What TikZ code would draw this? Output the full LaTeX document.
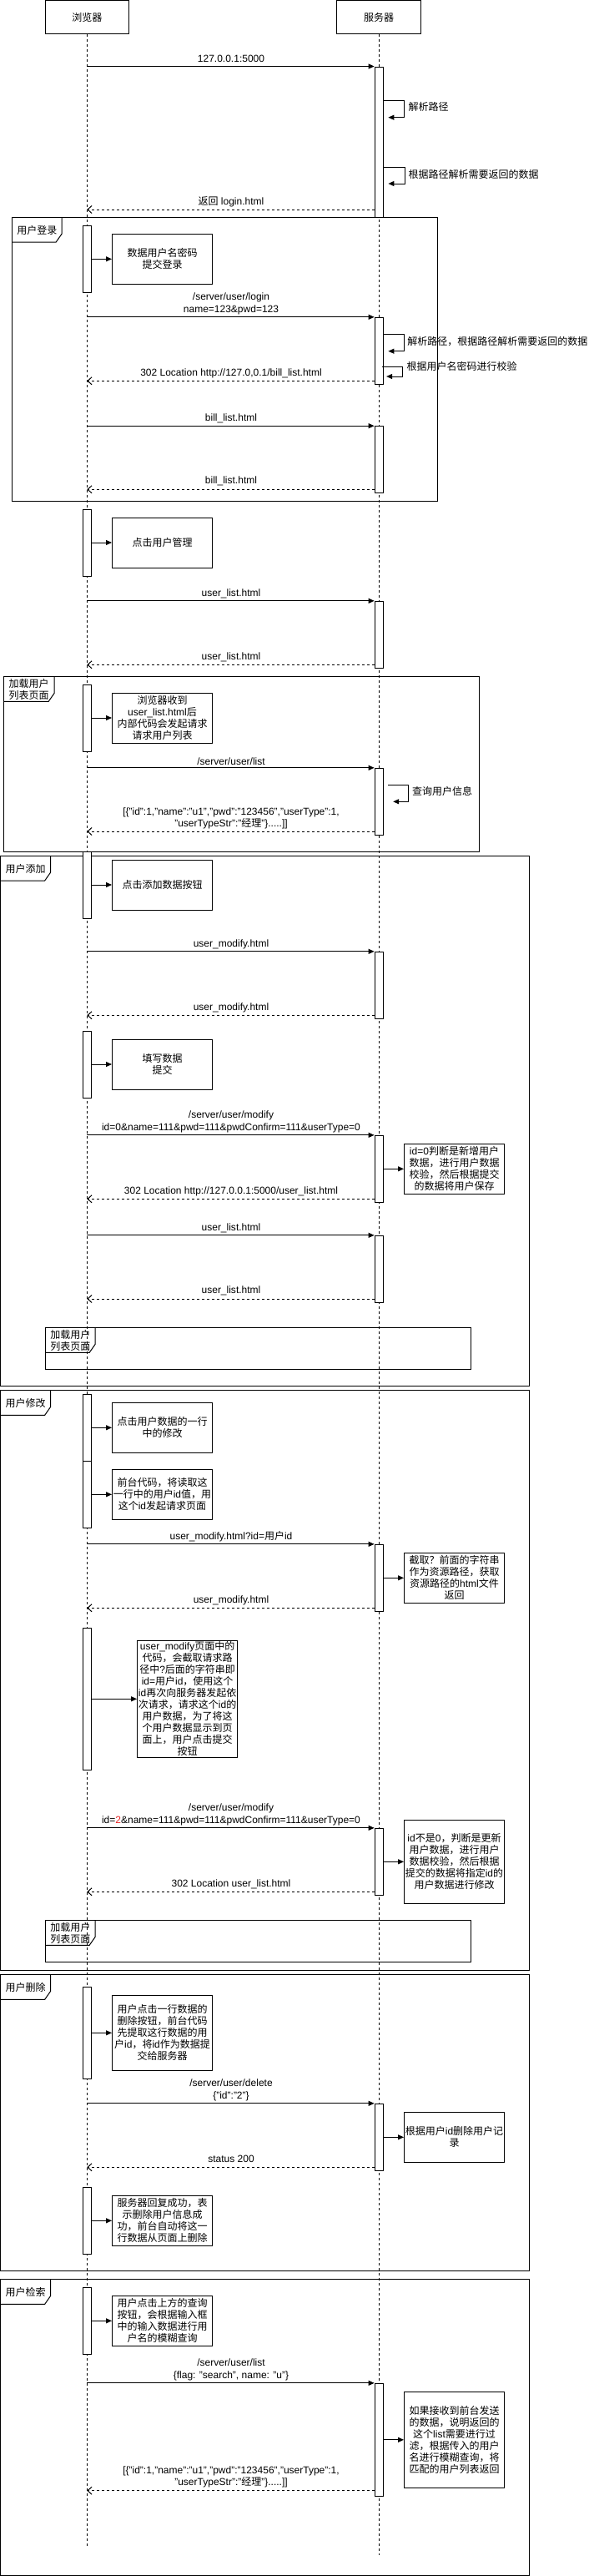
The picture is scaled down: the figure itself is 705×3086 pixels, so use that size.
\documentclass[tikz,border=0pt]{standalone}
\usepackage{fontspec}
\setmainfont{Liberation Sans}
\newfontfamily\zhfont{Noto Sans CJK SC}
% Chinese characters switch to the CJK face
\newXeTeXintercharclass\zhclass
\newcount\zhcode
\newcommand{\zhrange}[2]{%
  \zhcode=#1
  \loop
    \XeTeXcharclass\zhcode=\zhclass
    \advance\zhcode by 1
  \ifnum\zhcode<#2 \repeat}
\zhrange{"4E00}{"A000}
\zhrange{"3000}{"3040}
\zhrange{"FF00}{"FFF0}
\XeTeXinterchartoks 0 \zhclass = {\zhfont}
\XeTeXinterchartoks 4095 \zhclass = {\zhfont}
\XeTeXinterchartoks \zhclass 0 = {\rmfamily}
\XeTeXinterchartoks \zhclass 4095 = {\rmfamily}
\XeTeXinterchartokenstate=1
\usetikzlibrary{arrows.meta,positioning}
\definecolor{idred}{RGB}{232,38,38}

\tikzset{
  head/.style={draw, minimum width=100.5pt, minimum height=40pt, inner sep=0pt},
  actbox/.style={draw, fill=white, minimum width=10pt, inner sep=0pt},
  notebox/.style={draw, fill=white, align=center, inner sep=1pt,
    minimum width=120pt, minimum height=60pt, font=\fontsize{12}{14}\selectfont},
  call/.style={-{Triangle[length=7pt,width=6pt]}},
  reply/.style={dash pattern=on 3pt off 3pt, -{Straight Barb[length=5pt,width=9pt]}},
  life/.style={dash pattern=on 3pt off 3pt},
  msg/.style={align=center, inner sep=0pt},
  side/.style={anchor=west, inner sep=0pt},
  tag/.style={anchor=west, align=left, inner sep=0pt},
}

% activation bar: name, x, top, bottom
\newcommand{\actbar}[4]{%
  \pgfmathsetmacro{\barlen}{#4-#3}%
  \node[actbox, minimum height=\barlen pt] (#1) at (#2,{(#3+#4)/2}) {};}

% fragment: x0, y0, x1, y1, tag right edge, name, title
\newcommand{\umlframe}[7]{%
  \draw (#1,#2) rectangle (#3,#4);
  \draw (#1,#2+30) -- (#5-7,#2+30) -- (#5,#2+20) -- (#5,#2);
  \node[tag] (#6) at (#1+5.5,#2+15.5) {#7};}

\begin{document}
\begin{tikzpicture}[x=1pt, y=-1pt, line width=1pt, font=\fontsize{12}{14.4}\selectfont]
\useasboundingbox (0,0) rectangle (705,3086);

% Fragments
\umlframe{14.4}{260}{524.7}{600}{74.2}{fLogin}{用户登录}
\umlframe{4.5}{810.3}{574.6}{1020.3}{65.2}{fList}{加载用户\\列表页面}
\umlframe{0.5}{1025}{634}{1660}{60.7}{fAdd}{用户添加}
\umlframe{54.4}{1590.3}{564.3}{1640.3}{114.2}{fListA}{加载用户\\列表页面}
\umlframe{0.5}{1665.3}{634}{2360.3}{60.7}{fEdit}{用户修改}
\umlframe{54.4}{2300.3}{564.3}{2350.3}{114.2}{fListB}{加载用户\\列表页面}
\umlframe{0.5}{2365.3}{634}{2720.3}{60.7}{fDel}{用户删除}
\umlframe{0.5}{2730.3}{634}{3085.5}{60.7}{fFind}{用户检索}

% Participants and lifelines
\node[head] (brw) at (104.3,20.5) {浏览器};
\node[head] (srv) at (454.1,20.5) {服务器};
\coordinate (brwEnd) at (104.3,3050);
\coordinate (srvEnd) at (454.1,3061);
\draw[life] (brw.south) -- (brwEnd);
\draw[life] (srv.south) -- (srvEnd);

% Activation bars
\foreach \n/\a/\b in {s1/80/260, s2/380.3/460.7, s3/510.7/590, s4/720.3/800,
    s5/920.3/1000, s6/1140.3/1220, s7/1360.3/1440, s8/1480.3/1560,
    s9/1850.3/1930, s10/2190.3/2270, s11/2520.3/2600, s12/2855.3/2990}
  {\actbar{\n}{454.1}{\a}{\b}}
\foreach \n/\a/\b in {c1/270/350, c2/610/690, c3/820/900, c4/1020/1100,
    c5/1235/1315, c6/1670/1750, c7/1750/1830, c8/1950/2120,
    c9/2380/2490, c10/2620/2700, c11/2740/2820}
  {\actbar{\n}{104.3}{\a}{\b}}

% Browser side notes
\node[notebox] (n1) at (194.5,310.3) {数据用户名密码\\提交登录};
\node[notebox] (n2) at (194.5,650) {点击用户管理};
\node[notebox] (n3) at (194.5,860) {浏览器收到\\user\_list.html后\\内部代码会发起请求\\请求用户列表};
\node[notebox] (n4) at (194.5,1060) {点击添加数据按钮};
\node[notebox] (n5) at (194.5,1275) {填写数据\\提交};
\node[notebox] (n6) at (194.5,1710.3) {点击用户数据的一行\\中的修改};
\node[notebox] (n7) at (194.5,1790.3) {前台代码，将读取这\\一行中的用户id值，用\\这个id发起请求页面};
\node[notebox, minimum height=140pt, inner sep=0pt] (n8) at (224.6,2035.3)
  {user\_modify页面中的\\代码，会截取请求路\\径中?后面的字符串即\\id=用户id，使用这个\\id再次向服务器发起依\\次请求，请求这个id的\\用户数据，为了将这\\个用户数据显示到页\\面上，用户点击提交\\按钮};
\node[notebox, minimum height=90pt] (n9) at (194.5,2435.3)
  {用户点击一行数据的\\删除按钮，前台代码\\先提取这行数据的用\\户id，将id作为数据提\\交给服务器};
\node[notebox] (n10) at (194.5,2660.3) {服务器回复成功，表\\示删除用户信息成\\功，前台自动将这一\\行数据从页面上删除};
\node[notebox] (n11) at (194.5,2780.3) {用户点击上方的查询\\按钮，会根据输入框\\中的输入数据进行用\\户名的模糊查询};
\foreach \i in {1,...,11}
  {\draw[call] (c\i.east |- n\i.west) -- (n\i.west);}

% Server side notes
\node[notebox] (t1) at (544.5,1400.3) {id=0判断是新增用户\\数据，进行用户数据\\校验，然后根据提交\\的数据将用户保存};
\node[notebox] (t2) at (544.5,1890.3) {截取？前面的字符串\\作为资源路径，获取\\资源路径的html文件\\返回};
\node[notebox, minimum height=100pt] (t3) at (544.5,2230.3)
  {id不是0，判断是更新\\用户数据，进行用户\\数据校验，然后根据\\提交的数据将指定id的\\用户数据进行修改};
\node[notebox] (t4) at (544.5,2560.3) {根据用户id删除用户记\\录};
\node[notebox, minimum height=115pt] (t5) at (544.5,2922.8)
  {如果接收到前台发送\\的数据，说明返回的\\这个list需要进行过\\滤，根据传入的用户\\名进行模糊查询，将\\匹配的用户列表返回};
\foreach \s/\t in {s7/t1, s9/t2, s10/t3, s11/t4, s12/t5}
  {\draw[call] (\s.east |- \t.west) -- (\t.west);}

% Requests
\foreach \i in {1,...,12}
  {\draw[call] (brw |- s\i.north west) -- (s\i.north west);}
\node[msg] (m1) at (277,70.7) {127.0.0.1:5000};
\node[msg] (m2) at (277,364) {/server/user/login\\name=123\&pwd=123};
\node[msg] (m3) at (277,501.7) {bill\_list.html};
\node[msg] (m4) at (277,711) {user\_list.html};
\node[msg] (m5) at (277,911.7) {/server/user/list};
\node[msg] (m6) at (277,1131) {user\_modify.html};
\node[msg] (m7) at (277,1344) {/server/user/modify\\id=0\&name=111\&pwd=111\&pwdConfirm=111\&userType=0};
\node[msg] (m8) at (277,1471) {user\_list.html};
\node[msg] (m9) at (277,1841) {user\_modify.html?id=用户id};
\node[msg] (m10) at (277,2174) {/server/user/modify\\id=\textcolor{idred}{2}\&name=111\&pwd=111\&pwdConfirm=111\&userType=0};
\node[msg] (m11) at (277,2504) {/server/user/delete\\\{"id":"2"\}};
\node[msg] (m12) at (277,2839) {/server/user/list\\\{flag: "search", name: "u"\}};

% Replies
\foreach \s/\y in {s1/251, s2/456.3, s3/586.3, s4/796.3, s5/996, s6/1216.3,
    s7/1436.3, s8/1556, s9/1926.3, s10/2266.3, s11/2596.3, s12/2983.7}
  {\draw[reply] (\s.west |- 0,\y) -- (brw |- 0,\y);}
\node[msg] (r1) at (277,242) {返回 login.html};
\node[msg] (r2) at (277,447) {302 Location http://127.0,0.1/bill\_list.html};
\node[msg] (r3) at (277,576.7) {bill\_list.html};
\node[msg] (r4) at (277,787) {user\_list.html};
\node[msg] (r5) at (277,980.5) {[\{"id":1,"name":"u1","pwd":"123456","userType":1,\\"userTypeStr":"经理"\}.....]]};
\node[msg] (r6) at (277,1207) {user\_modify.html};
\node[msg] (r7) at (277,1427) {302 Location http://127.0.0.1:5000/user\_list.html};
\node[msg] (r8) at (277,1546.7) {user\_list.html};
\node[msg] (r9) at (277,1917) {user\_modify.html};
\node[msg] (r10) at (277,2257) {302 Location user\_list.html};
\node[msg] (r11) at (277,2586.7) {status 200};
\node[msg] (r12) at (277,2967.3) {[\{"id":1,"name":"u1","pwd":"123456","userType":1,\\"userTypeStr":"经理"\}.....]]};

% Self calls on the server
\draw[call] (s1.east |- 0,120.7) -| (484.7,140.7) -- (465.4,140.7);
\node[side] (q1) at (489.2,128.3) {解析路径};
\draw[call] (s1.east |- 0,200.7) -| (485.6,220) -- (465.4,220);
\node[side] (q2) at (489.2,209) {根据路径解析需要返回的数据};
\draw[call] (s2.east |- 0,400.7) -| (484.7,420.7) -- (465.4,420.7);
\node[side] (q3) at (487.9,409) {解析路径，根据路径解析需要返回的数据};
\draw[call] (457.7,439.3) -| (482.5,451) -- (463.1,451);
\node[side] (q4) at (487,439.3) {根据用户名密码进行校验};
\draw[call] (464.9,940.3) -| (489.2,960.3) -- (471.2,960.3);
\node[side] (q5) at (493.7,948.3) {查询用户信息};

\end{tikzpicture}
\end{document}
